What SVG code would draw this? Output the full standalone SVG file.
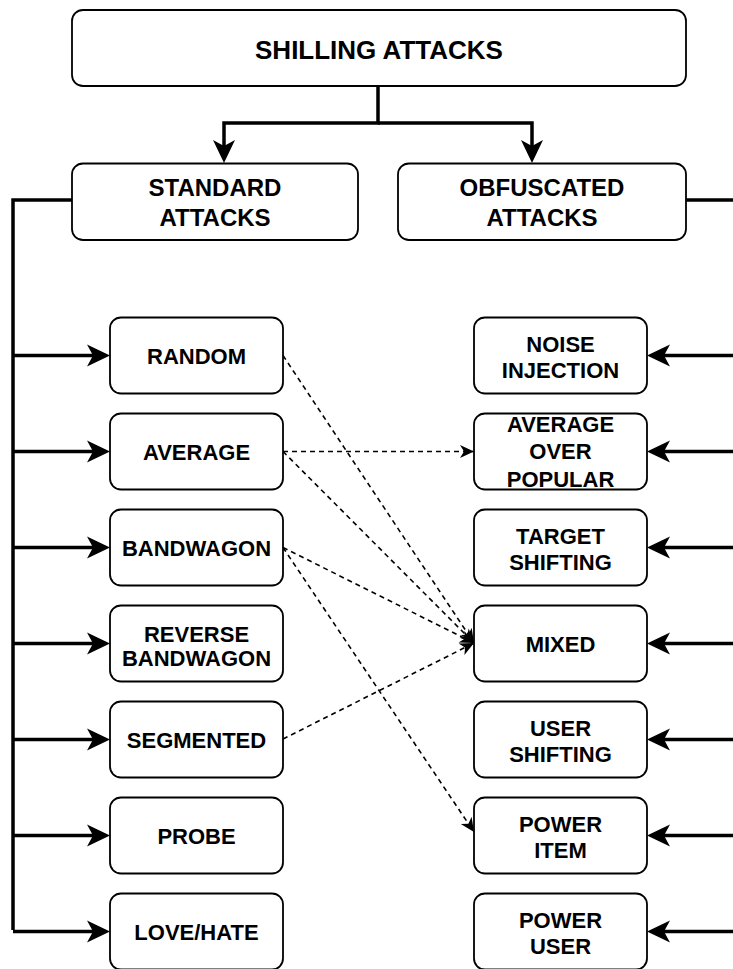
<svg xmlns="http://www.w3.org/2000/svg" width="733" height="969" viewBox="0 0 733 969">
<style>
.box{fill:#fff;stroke:#000;stroke-width:1.8}
.t{font-family:"Liberation Sans",Arial,Helvetica,sans-serif;font-weight:bold;font-size:22px;text-anchor:middle;fill:#000}
.t24{font-size:24px}
.t26{font-size:26px}
.thick{fill:none;stroke:#000;stroke-width:3.5}
.dash{fill:none;stroke:#000;stroke-width:1.6;stroke-dasharray:5 4}
</style>
<defs>
<marker id="big" markerUnits="userSpaceOnUse" markerWidth="24" markerHeight="22" refX="6" refY="11" orient="auto" overflow="visible">
<path d="M0,0 L23,11 L0,22 L6,11 Z" fill="#000"/>
</marker>
<marker id="small" markerUnits="userSpaceOnUse" markerWidth="15" markerHeight="13" refX="14" refY="6.5" orient="auto" overflow="visible">
<path d="M0,0 L14,6.5 L0,13 L4,6.5 Z" fill="#000"/>
</marker>
</defs>
<rect width="733" height="969" fill="#fff"/>
<g id="connectors">
<path class="thick" d="M378,86 V123 H224 V146" marker-end="url(#big)"/>
<path class="thick" d="M378,123 H532 V146" marker-end="url(#big)"/>
<path class="thick" d="M72,200 H13 V930"/>
<path class="thick" d="M13,355.5 H93" marker-end="url(#big)"/>
<path class="thick" d="M13,451.5 H93" marker-end="url(#big)"/>
<path class="thick" d="M13,547.5 H93" marker-end="url(#big)"/>
<path class="thick" d="M13,643.5 H93" marker-end="url(#big)"/>
<path class="thick" d="M13,739.5 H93" marker-end="url(#big)"/>
<path class="thick" d="M13,835.5 H93" marker-end="url(#big)"/>
<path class="thick" d="M13,931.5 H93" marker-end="url(#big)"/>
<path class="thick" d="M686,200 H737 V931.5"/>
<path class="thick" d="M737,355.5 H664" marker-end="url(#big)"/>
<path class="thick" d="M737,451.5 H664" marker-end="url(#big)"/>
<path class="thick" d="M737,547.5 H664" marker-end="url(#big)"/>
<path class="thick" d="M737,643.5 H664" marker-end="url(#big)"/>
<path class="thick" d="M737,739.5 H664" marker-end="url(#big)"/>
<path class="thick" d="M737,835.5 H664" marker-end="url(#big)"/>
<path class="thick" d="M737,931.5 H664" marker-end="url(#big)"/>
<path class="dash" d="M283,355.5 L474,643" marker-end="url(#small)"/>
<path class="dash" d="M283,451.5 L474,451.5" marker-end="url(#small)"/>
<path class="dash" d="M283,451.5 L474,643" marker-end="url(#small)"/>
<path class="dash" d="M283,547.5 L474,643" marker-end="url(#small)"/>
<path class="dash" d="M283,547.5 L474,832" marker-end="url(#small)"/>
<path class="dash" d="M283,739 L474,643" marker-end="url(#small)"/>
</g>
<g id="shilling"><rect class="box" x="72" y="10" width="614" height="76" rx="11"/><text class="t t26" x="379" y="58.5">SHILLING ATTACKS</text></g>
<g id="standard"><rect class="box" x="72" y="163.5" width="286" height="76.5" rx="11"/><text class="t t24" x="215"><tspan x="215" y="196">STANDARD</tspan><tspan x="215" y="226">ATTACKS</tspan></text></g>
<g id="obfuscated"><rect class="box" x="398" y="163.5" width="288" height="76.5" rx="11"/><text class="t t24" x="542"><tspan x="542" y="195.5">OBFUSCATED</tspan><tspan x="542" y="225.5">ATTACKS</tspan></text></g>
<g id="random"><rect class="box" x="110" y="317.5" width="173" height="76" rx="11"/><text class="t" x="196.5" y="364">RANDOM</text></g>
<g id="average"><rect class="box" x="110" y="413.5" width="173" height="76" rx="11"/><text class="t" x="196.5" y="460">AVERAGE</text></g>
<g id="bandwagon"><rect class="box" x="110" y="509.5" width="173" height="76" rx="11"/><text class="t" x="196.5" y="556">BANDWAGON</text></g>
<g id="reverse-bandwagon"><rect class="box" x="110" y="605.5" width="173" height="76" rx="11"/><text class="t"><tspan x="196.5" y="641.5">REVERSE</tspan><tspan x="196.5" y="666">BANDWAGON</tspan></text></g>
<g id="segmented"><rect class="box" x="110" y="701.5" width="173" height="76" rx="11"/><text class="t" x="196.5" y="748">SEGMENTED</text></g>
<g id="probe"><rect class="box" x="110" y="797.5" width="173" height="76" rx="11"/><text class="t" x="196.5" y="844">PROBE</text></g>
<g id="lovehate"><rect class="box" x="110" y="893.5" width="173" height="76" rx="11"/><text class="t" x="196.5" y="940">LOVE/HATE</text></g>
<g id="noise-injection"><rect class="box" x="474" y="317.5" width="173" height="76" rx="11"/><text class="t"><tspan x="560.5" y="352">NOISE</tspan><tspan x="560.5" y="378">INJECTION</tspan></text></g>
<g id="average-over-popular"><rect class="box" x="474" y="413.5" width="173" height="76" rx="11"/><text class="t"><tspan x="560.5" y="431.5">AVERAGE</tspan><tspan x="560.5" y="459">OVER</tspan><tspan x="560.5" y="486.5">POPULAR</tspan></text></g>
<g id="target-shifting"><rect class="box" x="474" y="509.5" width="173" height="76" rx="11"/><text class="t"><tspan x="560.5" y="544">TARGET</tspan><tspan x="560.5" y="570">SHIFTING</tspan></text></g>
<g id="mixed"><rect class="box" x="474" y="605.5" width="173" height="76" rx="11"/><text class="t" x="560.5" y="652">MIXED</text></g>
<g id="user-shifting"><rect class="box" x="474" y="701.5" width="173" height="76" rx="11"/><text class="t"><tspan x="560.5" y="736">USER</tspan><tspan x="560.5" y="762">SHIFTING</tspan></text></g>
<g id="power-item"><rect class="box" x="474" y="797.5" width="173" height="76" rx="11"/><text class="t"><tspan x="560.5" y="832">POWER</tspan><tspan x="560.5" y="858">ITEM</tspan></text></g>
<g id="power-user"><rect class="box" x="474" y="893.5" width="173" height="76" rx="11"/><text class="t"><tspan x="560.5" y="928">POWER</tspan><tspan x="560.5" y="954">USER</tspan></text></g>
</svg>
